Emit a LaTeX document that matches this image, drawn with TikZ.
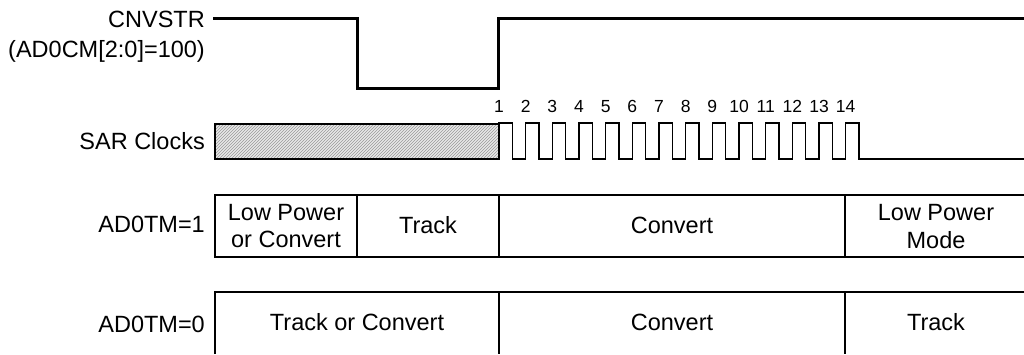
\documentclass[tikz,border=0pt]{standalone}
\usepackage{fontspec}
\setmainfont{Liberation Sans}
\usetikzlibrary{patterns}
\begin{document}
\begin{tikzpicture}[x=1pt,y=-1pt,
  lbl/.style={font=\fontsize{23.5}{27}\selectfont, inner sep=0pt, anchor=base east},
  txt/.style={font=\fontsize{23.5}{27}\selectfont, inner sep=0pt, anchor=base},
  num/.style={font=\fontsize{17.5}{20}\selectfont, inner sep=0pt, anchor=base},
  sig/.style={line width=3pt},
  thin/.style={line width=1.2pt}]
\useasboundingbox (0,0) rectangle (1024,354);
% labels
\node[lbl] (cnv) at (205,27) {CNVSTR};
\node[lbl] (cm) at (205,57) {(AD0CM[2:0]=100)};
\node[lbl] (sar) at (205,149) {SAR Clocks};
\node[lbl] (tm1) at (205,232) {AD0TM=1};
\node[lbl] (tm0) at (205,332) {AD0TM=0};
% CNVSTR waveform
\draw[sig] (213,18) -- (357.5,18) -- (357.5,88) -- (498.5,88) -- (498.5,18) -- (1024,18);
% SAR clocks
\fill[gray!18] (215,124) rectangle (499,159);
\path[pattern=north east lines, pattern color=gray!80] (215,124) rectangle (499,159);
\draw[thin] (215,124) rectangle (499,159);
\draw[thin] (499,159) foreach \k in {0,...,13} { -- ++(0,-36) -- ++(13.333,0) -- ++(0,36) -- ++(13.333,0) } -- (1024,159);
\foreach \k in {1,...,14} {
  \node[num] (n\k) at ({499+26.667*(\k-1)},112) {\k};
}
% AD0TM=1 row
\draw[thin] (1024,195) -- (215,195) -- (215,257) -- (1024,257);
\draw[thin] (357,195) -- (357,257);
\draw[thin] (499,195) -- (499,257);
\draw[thin] (845,195) -- (845,257);
\node[txt] (lp1) at (286,220) {Low Power};
\node[txt] (lp2) at (286,247) {or Convert};
\node[txt] (tr1) at (428,233) {Track};
\node[txt] (cv1) at (672,233) {Convert};
\node[txt] (lm1) at (936,220) {Low Power};
\node[txt] (lm2) at (936,248) {Mode};
% AD0TM=0 row
\draw[thin] (215,354) -- (215,292) -- (1024,292);
\draw[thin] (499,292) -- (499,354);
\draw[thin] (845,292) -- (845,354);
\node[txt] (tc0) at (357,330) {Track or Convert};
\node[txt] (cv0) at (672,330) {Convert};
\node[txt] (tr0) at (936,330) {Track};
\end{tikzpicture}
\end{document}
